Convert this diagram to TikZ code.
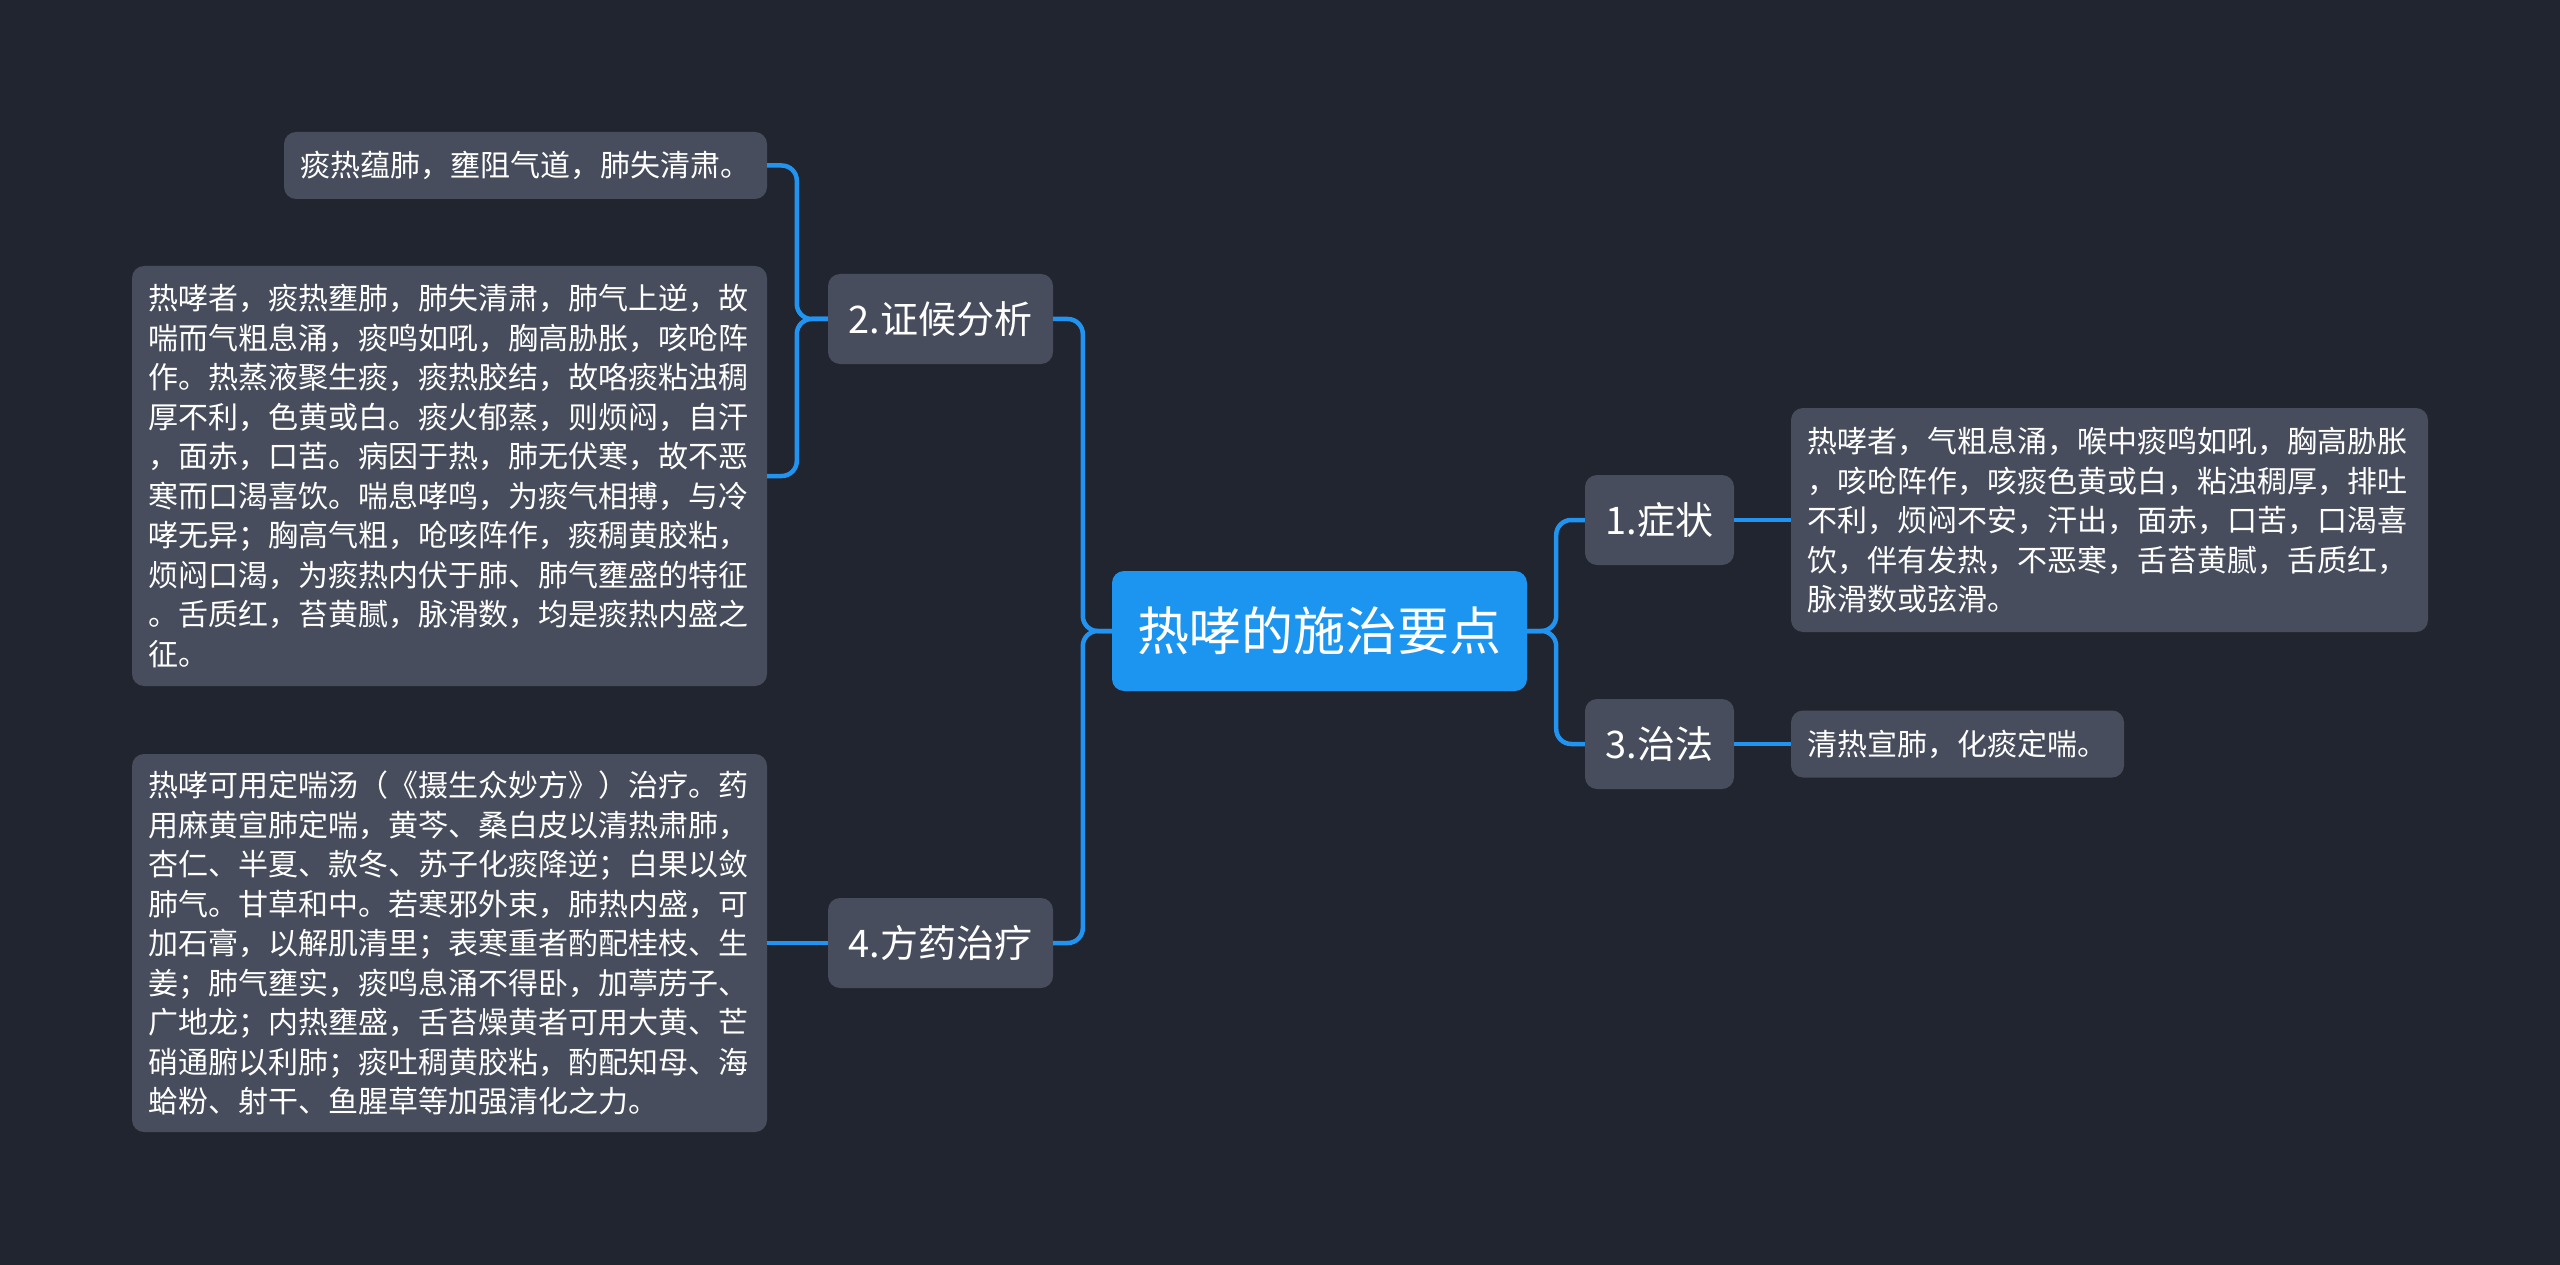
\documentclass[tikz,border=0pt]{standalone}
\usepackage{fontspec}
\newfontfamily\cjk{Noto Sans CJK SC}
\definecolor{bgcol}{HTML}{21252F}
\definecolor{nodefill}{HTML}{474D5C}
\definecolor{rootfill}{HTML}{1B95EF}
\definecolor{linecol}{HTML}{2193F0}
\begin{document}
\begin{tikzpicture}[x=1pt,y=-1pt,
  leaf/.style={rectangle, rounded corners=12pt, fill=nodefill, text=white,
    font=\cjk\fontsize{30}{39.5}\selectfont, align=left, inner xsep=16pt, inner ysep=0pt},
  branch/.style={rectangle, rounded corners=12pt, fill=nodefill, text=white,
    font=\cjk\fontsize{38}{46}\selectfont, inner sep=0pt, minimum height=90pt},
  rootnode/.style={rectangle, rounded corners=12pt, fill=rootfill, text=white,
    font=\cjk\fontsize{52}{60}\selectfont, inner sep=0pt, minimum width=415pt, minimum height=120pt},
  conn/.style={draw=linecol, line width=4.5pt, rounded corners=15pt}]
\fill[bgcol] (0,0) rectangle (2560,1265);
\useasboundingbox (0,0) rectangle (2560,1265);

\node[rootnode] (root) at (1319.5,631) {热哮的施治要点};

\node[branch, minimum width=225pt] (n2) at (940.5,319) {2.证候分析};
\node[branch, minimum width=225pt] (n4) at (940.5,943) {4.方药治疗};
\node[branch, minimum width=149pt] (n1) at (1659.5,520) {1.症状};
\node[branch, minimum width=149pt] (n3) at (1659.5,744) {3.治法};

\node[leaf, text width=451pt, minimum height=67pt] (a) at (525.5,165.5) {痰热蕴肺，壅阻气道，肺失清肃。};
\node[leaf, text width=603pt, minimum height=420pt] (b) at (449.5,476) {热哮者，痰热壅肺，肺失清肃，肺气上逆，故\\
喘而气粗息涌，痰鸣如吼，胸高胁胀，咳呛阵\\
作。热蒸液聚生痰，痰热胶结，故咯痰粘浊稠\\
厚不利，色黄或白。痰火郁蒸，则烦闷，自汗\\
，面赤，口苦。病因于热，肺无伏寒，故不恶\\
寒而口渴喜饮。喘息哮鸣，为痰气相搏，与冷\\
哮无异；胸高气粗，呛咳阵作，痰稠黄胶粘，\\
烦闷口渴，为痰热内伏于肺、肺气壅盛的特征\\
。舌质红，苔黄腻，脉滑数，均是痰热内盛之\\
征。};
\node[leaf, text width=603pt, minimum height=378pt] (d) at (449.5,943) {热哮可用定喘汤（《摄生众妙方》）治疗。药\\
用麻黄宣肺定喘，黄芩、桑白皮以清热肃肺，\\
杏仁、半夏、款冬、苏子化痰降逆；白果以敛\\
肺气。甘草和中。若寒邪外束，肺热内盛，可\\
加石膏，以解肌清里；表寒重者酌配桂枝、生\\
姜；肺气壅实，痰鸣息涌不得卧，加葶苈子、\\
广地龙；内热壅盛，舌苔燥黄者可用大黄、芒\\
硝通腑以利肺；痰吐稠黄胶粘，酌配知母、海\\
蛤粉、射干、鱼腥草等加强清化之力。};
\node[leaf, text width=605pt, minimum height=224pt] (c1) at (2109.5,520) {热哮者，气粗息涌，喉中痰鸣如吼，胸高胁胀\\
，咳呛阵作，咳痰色黄或白，粘浊稠厚，排吐\\
不利，烦闷不安，汗出，面赤，口苦，口渴喜\\
饮，伴有发热，不恶寒，舌苔黄腻，舌质红，\\
脉滑数或弦滑。};
\node[leaf, text width=301pt, minimum height=67pt] (c3) at (1957.5,744) {清热宣肺，化痰定喘。};

\draw[conn] (root.west) -- ++(-29,0) |- (n2.east);
\draw[conn] (root.west) -- ++(-29,0) |- (n4.east);
\draw[conn] (root.east) -- ++(29,0) |- (n1.west);
\draw[conn] (root.east) -- ++(29,0) |- (n3.west);
\draw[conn] (n2.west) -- ++(-31,0) |- (a.east);
\draw[conn] (n2.west) -- ++(-31,0) |- (b.east);
\draw[conn] (n4.west) -- (d.east);
\draw[conn] (n1.east) -- (c1.west);
\draw[conn] (n3.east) -- (c3.west);
\end{tikzpicture}
\end{document}
